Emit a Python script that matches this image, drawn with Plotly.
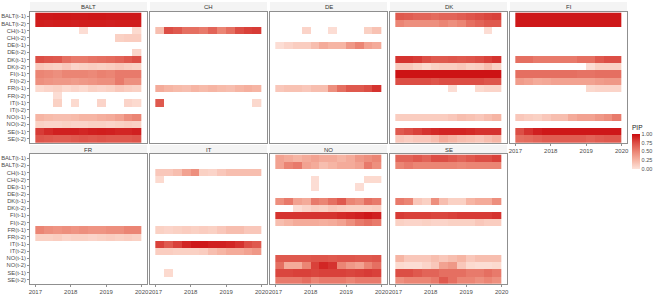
import plotly.graph_objects as go

# ---------------- data ----------------
panels = ["BALT", "CH", "DE", "DK", "FI", "FR", "IT", "NO", "SE"]
row_labels = ["BALT(t-1)", "BALT(t-2)", "CH(t-1)", "CH(t-2)", "DE(t-1)", "DE(t-2)",
              "DK(t-1)", "DK(t-2)", "FI(t-1)", "FI(t-2)", "FR(t-1)", "FR(t-2)",
              "IT(t-1)", "IT(t-2)", "NO(t-1)", "NO(t-2)", "SE(t-1)", "SE(t-2)"]
# quarterly time points (centres), 2017 Q1 .. 2019 Q4
time_q = [2017.125, 2017.375, 2017.625, 2017.875, 2018.125, 2018.375,
          2018.625, 2018.875, 2019.125, 2019.375, 2019.625, 2019.875]
x_ticks = [2017, 2018, 2019, 2020]
cbar_ticks = [0, 0.25, 0.5, 0.75, 1.0]

# PIP values per panel: {row index: 12 quarterly values}; missing rows = 0
pip_BALT = {
    0: [0.95, 0.95, 0.96, 0.96, 0.95, 0.95, 0.96, 0.96, 0.95, 0.95, 0.95, 0.95],
    1: [0.93, 0.92, 0.93, 0.93, 0.92, 0.93, 0.93, 0.93, 0.92, 0.93, 0.93, 0.93],
    2: [0, 0, 0, 0, 0, 0.03, 0, 0, 0, 0, 0, 0.05],
    3: [0, 0, 0, 0, 0, 0, 0, 0, 0, 0.1, 0.12, 0.12],
    5: [0, 0, 0, 0, 0, 0, 0, 0, 0, 0, 0, 0.08],
    6: [0.75, 0.72, 0.7, 0.6, 0.55, 0.55, 0.58, 0.6, 0.62, 0.65, 0.7, 0.75],
    7: [0.15, 0.12, 0.1, 0.15, 0.08, 0.1, 0.12, 0.1, 0.12, 0.15, 0.12, 0.1],
    8: [0.5, 0.48, 0.45, 0.5, 0.5, 0.5, 0.48, 0.52, 0.5, 0.55, 0.55, 0.55],
    9: [0.45, 0.42, 0.4, 0.4, 0.38, 0.4, 0.42, 0.45, 0.45, 0.55, 0.45, 0.45],
    10: [0.05, 0.08, 0.1, 0.05, 0.08, 0.05, 0.1, 0.08, 0.1, 0.15, 0.12, 0.1],
    11: [0, 0, 0.03, 0, 0, 0, 0, 0, 0, 0, 0, 0],
    12: [0, 0, 0.1, 0, 0.05, 0, 0, 0.08, 0, 0, 0.08, 0.05],
    14: [0.25, 0.22, 0.2, 0.2, 0.22, 0.25, 0.25, 0.28, 0.3, 0.35, 0.45, 0.5],
    15: [0.1, 0.08, 0.08, 0.1, 0.08, 0.08, 0.1, 0.1, 0.08, 0.1, 0.12, 0.1],
    16: [0.82, 0.88, 0.92, 0.92, 0.92, 0.9, 0.92, 0.93, 0.92, 0.9, 0.9, 0.92],
    17: [0.72, 0.7, 0.68, 0.68, 0.7, 0.72, 0.7, 0.72, 0.7, 0.7, 0.7, 0.72],
}
pip_CH = {
    2: [0.2, 0.75, 0.7, 0.6, 0.6, 0.55, 0.65, 0.5, 0.6, 0.75, 0.8, 0.82],
    10: [0.3, 0.25, 0.22, 0.2, 0.25, 0.22, 0.25, 0.22, 0.2, 0.25, 0.28, 0.25],
    12: [0.7, 0, 0, 0, 0, 0, 0, 0, 0, 0, 0, 0.06],
}
pip_DE = {
    2: [0, 0, 0, 0.08, 0, 0, 0.03, 0, 0, 0, 0.1, 0.18],
    4: [0.03, 0.08, 0.12, 0.12, 0.2, 0.3, 0.25, 0.25, 0.4, 0.5, 0.35, 0.3],
    10: [0.15, 0.18, 0.18, 0.15, 0.2, 0.2, 0.45, 0.6, 0.7, 0.7, 0.75, 0.85],
}
pip_DK = {
    0: [0.7, 0.68, 0.65, 0.65, 0.62, 0.65, 0.65, 0.68, 0.72, 0.75, 0.78, 0.8],
    1: [0.5, 0.45, 0.45, 0.45, 0.45, 0.5, 0.45, 0.5, 0.6, 0.65, 0.7, 0.7],
    2: [0, 0, 0, 0, 0, 0, 0, 0, 0, 0, 0.03, 0],
    6: [0.85, 0.85, 0.82, 0.75, 0.7, 0.7, 0.72, 0.7, 0.72, 0.75, 0.8, 0.85],
    7: [0.15, 0.15, 0.1, 0.05, 0.1, 0.12, 0.12, 0.15, 0.1, 0.12, 0.2, 0.1],
    8: [0.97, 0.97, 0.97, 0.97, 0.97, 0.97, 0.97, 0.97, 0.97, 0.97, 0.97, 0.97],
    9: [0.75, 0.75, 0.75, 0.75, 0.72, 0.75, 0.75, 0.75, 0.75, 0.75, 0.72, 0.72],
    10: [0, 0, 0, 0, 0, 0, 0.03, 0, 0, 0.05, 0.08, 0.08],
    14: [0.12, 0.12, 0.12, 0.12, 0.12, 0.12, 0.15, 0.2, 0.18, 0.15, 0.2, 0.25],
    16: [0.7, 0.75, 0.8, 0.85, 0.88, 0.9, 0.9, 0.9, 0.88, 0.85, 0.85, 0.85],
    17: [0.15, 0.12, 0.15, 0.15, 0.2, 0.3, 0.25, 0.2, 0.18, 0.15, 0.2, 0.25],
}
pip_FI = {
    0: [0.95, 0.95, 0.95, 0.95, 0.95, 0.95, 0.95, 0.95, 0.95, 0.95, 0.95, 0.95],
    1: [0.95, 0.95, 0.95, 0.95, 0.95, 0.95, 0.95, 0.95, 0.95, 0.95, 0.95, 0.95],
    6: [0.6, 0.6, 0.55, 0.55, 0.55, 0.55, 0.55, 0.6, 0.6, 0.7, 0.75, 0.75],
    7: [0, 0, 0, 0, 0, 0, 0, 0, 0.03, 0.1, 0.1, 0.1],
    8: [0.6, 0.6, 0.6, 0.6, 0.6, 0.6, 0.6, 0.58, 0.58, 0.6, 0.6, 0.6],
    9: [0.38, 0.35, 0.3, 0.32, 0.35, 0.35, 0.35, 0.35, 0.35, 0.38, 0.4, 0.4],
    10: [0, 0, 0, 0, 0, 0, 0, 0, 0.06, 0.08, 0.08, 0.08],
    14: [0.15, 0.12, 0.1, 0.15, 0.2, 0.2, 0.3, 0.35, 0.35, 0.4, 0.45, 0.55],
    16: [0.75, 0.85, 0.92, 0.95, 0.95, 0.95, 0.95, 0.95, 0.95, 0.95, 0.95, 0.95],
    17: [0.6, 0.62, 0.65, 0.68, 0.68, 0.68, 0.68, 0.68, 0.65, 0.68, 0.7, 0.7],
}
pip_FR = {
    10: [0.5, 0.45, 0.42, 0.45, 0.42, 0.45, 0.42, 0.42, 0.45, 0.45, 0.5, 0.5],
    11: [0.1, 0.1, 0.12, 0.08, 0.1, 0.1, 0.08, 0.1, 0.12, 0.1, 0.12, 0.1],
}
pip_IT = {
    2: [0.15, 0.15, 0.2, 0.35, 0.45, 0.1, 0.08, 0.15, 0.2, 0.2, 0.2, 0.2],
    3: [0.05, 0, 0, 0, 0, 0, 0, 0, 0, 0, 0, 0],
    10: [0.1, 0.08, 0.1, 0.12, 0.1, 0.12, 0.1, 0.15, 0.2, 0.2, 0.15, 0.15],
    12: [0.8, 0.7, 0.8, 0.9, 0.95, 0.95, 0.92, 0.92, 0.9, 0.85, 0.75, 0.7],
    13: [0.12, 0.12, 0.1, 0.1, 0.1, 0.12, 0.2, 0.25, 0.3, 0.3, 0.35, 0.4],
    16: [0, 0.05, 0, 0, 0, 0, 0, 0, 0, 0, 0, 0],
}
pip_NO = {
    0: [0.35, 0.3, 0.25, 0.3, 0.35, 0.3, 0.3, 0.25, 0.3, 0.4, 0.45, 0.5],
    1: [0.35, 0.5, 0.55, 0.35, 0.3, 0.2, 0.25, 0.3, 0.3, 0.35, 0.55, 0.45],
    3: [0, 0, 0, 0, 0.03, 0, 0, 0, 0, 0, 0.05, 0.05],
    4: [0, 0, 0, 0, 0.03, 0, 0, 0, 0, 0.03, 0, 0],
    6: [0.45, 0.55, 0.35, 0.3, 0.55, 0.5, 0.6, 0.7, 0.5, 0.45, 0.6, 0.55],
    7: [0, 0, 0.03, 0.08, 0.12, 0.1, 0.15, 0.12, 0.1, 0.1, 0.1, 0.12],
    8: [0.85, 0.85, 0.85, 0.85, 0.85, 0.85, 0.85, 0.88, 0.9, 0.92, 0.95, 0.92],
    9: [0.2, 0.25, 0.3, 0.3, 0.3, 0.28, 0.3, 0.35, 0.45, 0.55, 0.6, 0.55],
    14: [0.7, 0.7, 0.7, 0.7, 0.72, 0.72, 0.7, 0.72, 0.72, 0.7, 0.7, 0.72],
    15: [0.6, 0.3, 0.3, 0.5, 0.8, 0.9, 0.85, 0.5, 0.4, 0.35, 0.5, 0.6],
    16: [0.78, 0.78, 0.8, 0.8, 0.78, 0.8, 0.8, 0.8, 0.78, 0.8, 0.82, 0.8],
    17: [0.55, 0.55, 0.55, 0.6, 0.5, 0.55, 0.55, 0.55, 0.5, 0.55, 0.55, 0.55],
}
pip_SE = {
    0: [0.65, 0.65, 0.7, 0.65, 0.75, 0.75, 0.7, 0.65, 0.7, 0.75, 0.75, 0.8],
    1: [0.5, 0.55, 0.5, 0.5, 0.5, 0.5, 0.5, 0.48, 0.5, 0.5, 0.5, 0.5],
    6: [0.55, 0.5, 0.15, 0.1, 0.45, 0.2, 0.1, 0.1, 0.25, 0.3, 0.3, 0.45],
    8: [0.82, 0.8, 0.8, 0.8, 0.78, 0.78, 0.8, 0.82, 0.82, 0.82, 0.82, 0.85],
    9: [0.1, 0.08, 0.08, 0.1, 0.08, 0.08, 0.1, 0.1, 0.1, 0.15, 0.12, 0.12],
    14: [0.25, 0.15, 0.15, 0.15, 0.2, 0.15, 0.2, 0.25, 0.15, 0.2, 0.2, 0.2],
    15: [0.05, 0.03, 0.03, 0.08, 0.15, 0.35, 0.4, 0.15, 0.05, 0.03, 0.03, 0.05],
    16: [0.75, 0.75, 0.7, 0.65, 0.65, 0.6, 0.6, 0.6, 0.55, 0.55, 0.6, 0.55],
    17: [0.45, 0.5, 0.5, 0.5, 0.55, 0.7, 0.6, 0.5, 0.5, 0.45, 0.5, 0.45],
}
panel_data = [pip_BALT, pip_CH, pip_DE, pip_DK, pip_FI, pip_FR, pip_IT, pip_NO, pip_SE]

# ---------------- figure ----------------
W, H = 660, 300
FONT = "Liberation Sans, Arial, sans-serif"
colorscale = [[0.0, "#FDE3DA"], [0.25, "#F6B5A4"], [0.5, "#EB8574"],
              [0.75, "#DC4E45"], [1.0, "#CB0B0E"]]
border = "#8F8F8F"
tick_col = "#4D4D4D"

fig = go.Figure()
panel_w, col_step = 117, 120
rows_px = [(12, 143), (154, 284)]
strips_px = [(2, 12), (145, 154)]

for k, (name, data) in enumerate(zip(panels, panel_data)):
    r, c = divmod(k, 5)
    z = []
    for i in range(len(row_labels)):
        vals = data.get(i, [0] * len(time_q))
        z.append([v if v > 0 else None for v in vals])
    ax = k + 1
    xa = "x" if ax == 1 else f"x{ax}"
    ya = "y" if ax == 1 else f"y{ax}"
    fig.add_trace(go.Heatmap(
        x=time_q, y=list(range(len(row_labels))), z=z,
        zmin=0, zmax=1, colorscale=colorscale,
        showscale=(k == 0), xaxis=xa, yaxis=ya, hoverongaps=False,
        colorbar=dict(
            title=dict(text="PIP", side="top", font=dict(size=6.5, color="#222", family=FONT)),
            x=632 / W, xanchor="left", y=1 - 122 / H, yanchor="top",
            lenmode="pixels", len=47, thickness=8, xpad=0, ypad=0,
            tickvals=cbar_ticks, ticktext=[f"{v:.2f}" for v in cbar_ticks],
            tickfont=dict(size=5.5, color=tick_col, family=FONT),
            ticks="", outlinewidth=0,
        ) if k == 0 else None,
    ))
    x0 = 30 + col_step * c
    top, bot = rows_px[r]
    show_x = (r == 1) or (c == 4)
    xkey = "xaxis" if ax == 1 else f"xaxis{ax}"
    ykey = "yaxis" if ax == 1 else f"yaxis{ax}"
    fig.layout[xkey] = dict(
        domain=[x0 / W, (x0 + panel_w) / W], anchor=ya,
        range=[2016.85, 2020.15], showgrid=False, zeroline=False,
        showline=True, mirror=True, linecolor=border, linewidth=1,
        tickvals=x_ticks, ticktext=[str(v) for v in x_ticks],
        showticklabels=show_x, ticks="outside" if show_x else "",
        ticklen=2, tickcolor=border, tickwidth=1, automargin=False,
        tickfont=dict(size=6, color=tick_col, family=FONT),
    )
    fig.layout[ykey] = dict(
        domain=[1 - bot / H, 1 - top / H], anchor=xa,
        range=[17.6, -0.6], showgrid=False, zeroline=False,
        showline=True, mirror=True, linecolor=border, linewidth=1,
        tickvals=list(range(len(row_labels))), ticktext=row_labels,
        showticklabels=(c == 0), ticks="outside" if c == 0 else "",
        ticklen=2, tickcolor=border, tickwidth=1, automargin=False,
        tickfont=dict(size=5.8, color=tick_col, family=FONT),
    )
    s0, s1 = strips_px[r]
    fig.add_shape(type="rect", xref="paper", yref="paper",
                  x0=x0 / W, x1=(x0 + panel_w) / W, y0=1 - s1 / H, y1=1 - s0 / H,
                  fillcolor="#F4F4F4", line=dict(width=0), layer="below")
    fig.add_annotation(text=name, xref="paper", yref="paper",
                       x=(x0 + panel_w / 2) / W, y=1 - (s0 + s1) / 2 / H,
                       showarrow=False, xanchor="center", yanchor="middle",
                       font=dict(size=6, color="#333333", family=FONT))

fig.update_layout(
    width=W, height=H, margin=dict(l=0, r=0, t=0, b=0, pad=0, autoexpand=False),
    paper_bgcolor="white", plot_bgcolor="white",
    font=dict(family=FONT), showlegend=False,
)
fig.write_html("out.html", config={"displayModeBar": False},
               post_script="document.body.style.margin='0';document.body.style.overflow='hidden';")
